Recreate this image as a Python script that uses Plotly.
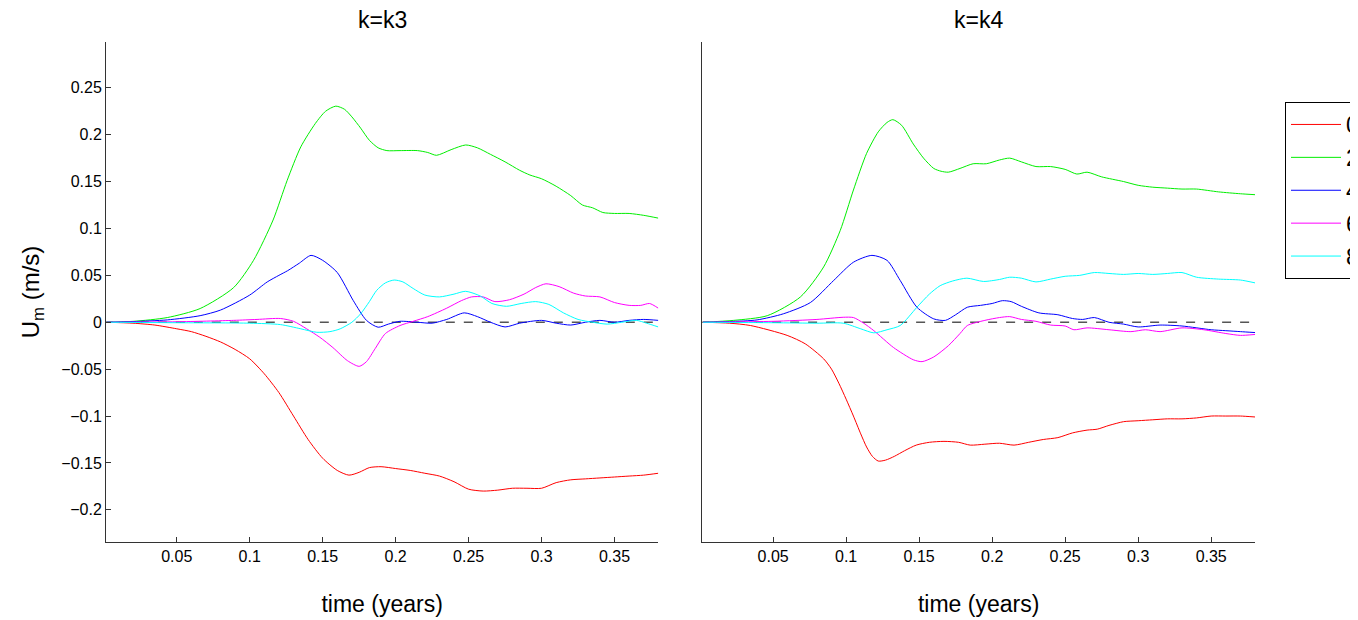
import plotly.graph_objects as go

# ---------------- data ----------------
series_names = ["0", "2", "4", "6", "8"]
series_colors = ["#ff0000", "#00ee00", "#0000ff", "#ff00ff", "#00ffff"]

# panel k=k3
k3_red_t = [0.002, 0.02, 0.035, 0.05, 0.06, 0.07, 0.08, 0.09, 0.1, 0.11, 0.12, 0.13, 0.14, 0.15, 0.16, 0.168,
            0.175, 0.182, 0.19, 0.2, 0.21, 0.22, 0.23, 0.24, 0.25, 0.26, 0.27, 0.28, 0.29, 0.3, 0.31, 0.32, 0.33,
            0.34, 0.35, 0.36, 0.37, 0.38]
k3_red_v = [0, -0.001, -0.003, -0.007, -0.01, -0.015, -0.021, -0.029, -0.039, -0.055, -0.075, -0.1, -0.125,
            -0.145, -0.158, -0.163, -0.16, -0.155, -0.154, -0.156, -0.158, -0.161, -0.164, -0.17, -0.178, -0.18,
            -0.179, -0.177, -0.177, -0.177, -0.171, -0.168, -0.167, -0.166, -0.165, -0.164, -0.163, -0.161]

k3_green_t = [0.002, 0.0205, 0.0435, 0.066, 0.089, 0.1026, 0.116, 0.1256, 0.135, 0.145, 0.152, 0.159, 0.165,
              0.17, 0.176, 0.182, 0.188, 0.194, 0.203, 0.215, 0.222, 0.228, 0.238, 0.248, 0.256, 0.265, 0.275,
              0.285, 0.292, 0.3, 0.31, 0.32, 0.328, 0.335, 0.342, 0.35, 0.36, 0.37, 0.38]
k3_green_v = [0, 0.001, 0.005, 0.0146, 0.037, 0.066, 0.109, 0.151, 0.187, 0.212, 0.225, 0.2304, 0.227, 0.219,
              0.207, 0.194, 0.186, 0.183, 0.183, 0.183, 0.181, 0.178, 0.184, 0.189, 0.186, 0.179, 0.171, 0.162,
              0.157, 0.153, 0.145, 0.135, 0.125, 0.122, 0.117, 0.116, 0.116, 0.114, 0.111]

k3_blue_t = [0.002, 0.02, 0.0435, 0.066, 0.08, 0.1, 0.112, 0.12, 0.126, 0.134, 0.142, 0.15, 0.16, 0.171, 0.18,
             0.188, 0.195, 0.203, 0.215, 0.225, 0.235, 0.247, 0.256, 0.265, 0.275, 0.285, 0.3, 0.31, 0.32, 0.33,
             0.34, 0.35, 0.36, 0.37, 0.38]
k3_blue_v = [0, 0.0007, 0.0025, 0.007, 0.013, 0.029, 0.043, 0.05, 0.055, 0.063, 0.0713, 0.066, 0.053, 0.023,
             0.002, -0.0053, -0.002, 0.001, 0.0, -0.001, 0.003, 0.01, 0.006, 0.0, -0.005, -0.001, 0.002, -0.001,
             -0.003, 0.0, 0.002, 0.0, 0.002, 0.003, 0.002]

k3_magenta_t = [0.002, 0.05, 0.089, 0.105, 0.121, 0.13, 0.139, 0.148, 0.157, 0.167, 0.175, 0.18, 0.186, 0.193,
                0.203, 0.212, 0.222, 0.235, 0.245, 0.252, 0.26, 0.268, 0.278, 0.288, 0.296, 0.303, 0.312, 0.322,
                0.33, 0.34, 0.35, 0.36, 0.368, 0.374, 0.38]
k3_magenta_v = [0, 0.0005, 0.002, 0.003, 0.004, 0.001, -0.007, -0.016, -0.027, -0.041, -0.047, -0.042, -0.028,
                -0.012, -0.0035, 0.001, 0.006, 0.015, 0.023, 0.027, 0.027, 0.022, 0.024, 0.03, 0.037, 0.041, 0.038,
                0.031, 0.028, 0.027, 0.021, 0.018, 0.018, 0.02, 0.015]

k3_cyan_t = [0.002, 0.05, 0.1, 0.121, 0.135, 0.146, 0.155, 0.162, 0.17, 0.176, 0.182, 0.187, 0.193, 0.199, 0.205,
             0.212, 0.22, 0.23, 0.24, 0.248, 0.258, 0.266, 0.276, 0.286, 0.296, 0.305, 0.315, 0.325, 0.335, 0.345,
             0.355, 0.365, 0.372, 0.38]
k3_cyan_v = [0, -0.0005, -0.001, -0.0025, -0.007, -0.0107, -0.01, -0.007, 0.0, 0.009, 0.022, 0.034, 0.042, 0.045,
             0.043, 0.036, 0.029, 0.027, 0.03, 0.033, 0.028, 0.02, 0.017, 0.02, 0.022, 0.019, 0.01, 0.003, 0.0,
             -0.002, 0.0, 0.002, -0.001, -0.005]

# panel k=k4
k4_red_t = [0.002, 0.02, 0.0345, 0.0596, 0.072, 0.0846, 0.09, 0.095, 0.1, 0.105, 0.11, 0.114, 0.118, 0.122, 0.127,
            0.133, 0.14, 0.148, 0.157, 0.167, 0.177, 0.185, 0.195, 0.205, 0.215, 0.225, 0.235, 0.245, 0.255, 0.265,
            0.272, 0.28, 0.29, 0.3, 0.31, 0.32, 0.33, 0.34, 0.35, 0.36, 0.37, 0.38]
k4_red_v = [0, -0.001, -0.0035, -0.014, -0.023, -0.039, -0.05, -0.065, -0.082, -0.1, -0.119, -0.133, -0.143,
            -0.148, -0.147, -0.143, -0.137, -0.131, -0.128, -0.127, -0.128, -0.131, -0.13, -0.129, -0.131, -0.128,
            -0.125, -0.123, -0.118, -0.115, -0.114, -0.11, -0.106, -0.105, -0.104, -0.103, -0.103, -0.102, -0.1,
            -0.1, -0.1, -0.101]

k4_green_t = [0.002, 0.023, 0.046, 0.0687, 0.0846, 0.096, 0.105, 0.114, 0.122, 0.128, 0.132, 0.138, 0.146, 0.153,
              0.16, 0.165, 0.17, 0.178, 0.187, 0.196, 0.205, 0.212, 0.22, 0.23, 0.24, 0.25, 0.258, 0.265, 0.275,
              0.29, 0.3, 0.31, 0.32, 0.33, 0.34, 0.355, 0.37, 0.38]
k4_green_v = [0, 0.002, 0.007, 0.027, 0.059, 0.098, 0.141, 0.18, 0.203, 0.213, 0.216, 0.21, 0.19, 0.175, 0.164,
              0.161, 0.16, 0.164, 0.169, 0.169, 0.173, 0.175, 0.171, 0.166, 0.166, 0.163, 0.158, 0.16, 0.155, 0.15,
              0.146, 0.144, 0.143, 0.142, 0.142, 0.139, 0.137, 0.136]

k4_blue_t = [0.002, 0.02, 0.039, 0.057, 0.0755, 0.0915, 0.105, 0.1177, 0.128, 0.137, 0.1485, 0.16, 0.168, 0.175,
             0.183, 0.192, 0.2, 0.207, 0.213, 0.22, 0.232, 0.245, 0.255, 0.262, 0.27, 0.28, 0.29, 0.3, 0.315, 0.33,
             0.35, 0.36, 0.37, 0.38]
k4_blue_v = [0, 0.0007, 0.0025, 0.009, 0.021, 0.0446, 0.064, 0.0713, 0.066, 0.0446, 0.016, 0.0036, 0.002, 0.008,
             0.016, 0.018, 0.02, 0.023, 0.022, 0.017, 0.01, 0.008, 0.004, 0.003, 0.005, 0.0, -0.002, -0.005, -0.003,
             -0.004, -0.008, -0.009, -0.01, -0.011]

k4_magenta_t = [0.002, 0.05, 0.08, 0.098, 0.105, 0.112, 0.119, 0.1325, 0.146, 0.152, 0.16, 0.17, 0.178, 0.183,
                0.195, 0.205, 0.212, 0.22, 0.23, 0.24, 0.25, 0.256, 0.265, 0.28, 0.295, 0.305, 0.315, 0.33, 0.345,
                0.36, 0.37, 0.38]
k4_magenta_v = [0, 0.001, 0.003, 0.0053, 0.005, -0.001, -0.009, -0.027, -0.04, -0.042, -0.037, -0.025, -0.012,
                -0.0035, 0.002, 0.005, 0.006, 0.003, 0.001, -0.003, -0.004, -0.008, -0.006, -0.008, -0.01, -0.008,
                -0.01, -0.006, -0.008, -0.012, -0.014, -0.013]

k4_cyan_t = [0.002, 0.05, 0.08, 0.098, 0.11, 0.119, 0.128, 0.137, 0.1485, 0.157, 0.1644, 0.173, 0.1827, 0.194,
             0.205, 0.212, 0.22, 0.23, 0.24, 0.25, 0.26, 0.27, 0.28, 0.29, 0.3, 0.31, 0.32, 0.33, 0.34, 0.355, 0.37,
             0.38]
k4_cyan_v = [0, -0.0005, -0.001, -0.001, -0.007, -0.0113, -0.008, -0.0035, 0.016, 0.03, 0.039, 0.044, 0.047,
             0.0435, 0.0456, 0.048, 0.047, 0.043, 0.046, 0.049, 0.05, 0.053, 0.052, 0.051, 0.052, 0.051, 0.052,
             0.053, 0.048, 0.046, 0.045, 0.042]

zero_t = [0.0, 0.38]
zero_v = [0.0, 0.0]

panel_titles = ["k=k3", "k=k4"]
x_tickvals = [0.05, 0.1, 0.15, 0.2, 0.25, 0.3, 0.35]
x_ticktext = ["0.05", "0.1", "0.15", "0.2", "0.25", "0.3", "0.35"]
y_tickvals = [-0.2, -0.15, -0.1, -0.05, 0, 0.05, 0.1, 0.15, 0.2, 0.25]
y_ticktext = ["\u22120.2", "\u22120.15", "\u22120.1", "\u22120.05", "0", "0.05", "0.1", "0.15", "0.2", "0.25"]
x_title = "time (years)"
y_title = "U<sub>m</sub> (m/s)"

# ---------------- figure ----------------
FONT = "Liberation Sans, Arial, Helvetica, sans-serif"
AX = "#333333"

panels = [
    ("x", "y", [(k3_red_t, k3_red_v), (k3_green_t, k3_green_v), (k3_blue_t, k3_blue_v),
                (k3_magenta_t, k3_magenta_v), (k3_cyan_t, k3_cyan_v)]),
    ("x2", "y2", [(k4_red_t, k4_red_v), (k4_green_t, k4_green_v), (k4_blue_t, k4_blue_v),
                  (k4_magenta_t, k4_magenta_v), (k4_cyan_t, k4_cyan_v)]),
]

fig = go.Figure()
for pi, (xa, ya, sers) in enumerate(panels):
    fig.add_trace(go.Scatter(x=zero_t, y=zero_v, xaxis=xa, yaxis=ya, mode="lines",
                             line=dict(color="#555555", width=1.6, dash="dash"),
                             showlegend=False, hoverinfo="skip"))
    for si, (t, v) in enumerate(sers):
        fig.add_trace(go.Scatter(x=t, y=v, xaxis=xa, yaxis=ya, mode="lines",
                                 name=series_names[si] + "\u00a0" * 8, legendgroup=series_names[si],
                                 showlegend=(pi == 0),
                                 line=dict(color=series_colors[si], width=1.0, shape="spline", smoothing=0.7)))

# the page body adds an 8px offset; margins are reduced by the same amount
OFF = 8
W, H = 1358, 620
ML, MR, MT, MB = 106 - OFF, 103 + OFF, 42 - OFF, 78 + OFF
pw = W - ML - MR
ph = H - MT - MB
d1 = [0, (658.3 - OFF - ML) / pw]
d2 = [(702.3 - OFF - ML) / pw, 1]

xcommon = dict(range=[0.0015, 0.38], showgrid=False, zeroline=False, showline=True, linecolor=AX, linewidth=1,
               ticks="inside", ticklen=5, tickcolor=AX, tickvals=x_tickvals, ticktext=x_ticktext,
               tickfont=dict(size=16, color="#000", family=FONT),
               title=dict(text=x_title, font=dict(size=23, color="#000", family=FONT), standoff=31))
ycommon = dict(range=[-0.2343, 0.2988], showgrid=False, zeroline=False, showline=True, linecolor=AX, linewidth=1)

fig.update_layout(
    width=W, height=H,
    paper_bgcolor="white", plot_bgcolor="white",
    margin=dict(l=ML, r=MR, t=MT, b=MB, autoexpand=False),
    font=dict(family=FONT, color="#000"),
    xaxis=dict(domain=d1, anchor="y", **xcommon),
    xaxis2=dict(domain=d2, anchor="y2", **xcommon),
    yaxis=dict(anchor="x", ticks="inside", ticklen=5, tickcolor=AX, tickvals=y_tickvals, ticktext=y_ticktext,
               tickfont=dict(size=16, color="#000", family=FONT),
               title=dict(text=y_title, font=dict(size=24, color="#000", family=FONT), standoff=14),
               **ycommon),
    yaxis2=dict(anchor="x2", ticks="", showticklabels=False, **ycommon),
    showlegend=True,
    legend=dict(x=(1285 - OFF - ML) / pw, xanchor="left", y=1 - (102 - OFF - MT) / ph, yanchor="top",
                bordercolor="#000", borderwidth=1, bgcolor="white",
                font=dict(size=23, color="#000", family=FONT),
                itemwidth=50, tracegroupgap=0),
    annotations=[
        dict(text=panel_titles[0], x=(d1[0] + d1[1]) / 2, y=1 + (MT - (20 - OFF)) / ph, xref="paper",
             yref="paper", showarrow=False, xanchor="center", yanchor="middle",
             font=dict(size=23, color="#000", family=FONT)),
        dict(text=panel_titles[1], x=(d2[0] + d2[1]) / 2, y=1 + (MT - (20 - OFF)) / ph, xref="paper",
             yref="paper", showarrow=False, xanchor="center", yanchor="middle",
             font=dict(size=23, color="#000", family=FONT)),
    ],
)

fig.write_html("out.html")
